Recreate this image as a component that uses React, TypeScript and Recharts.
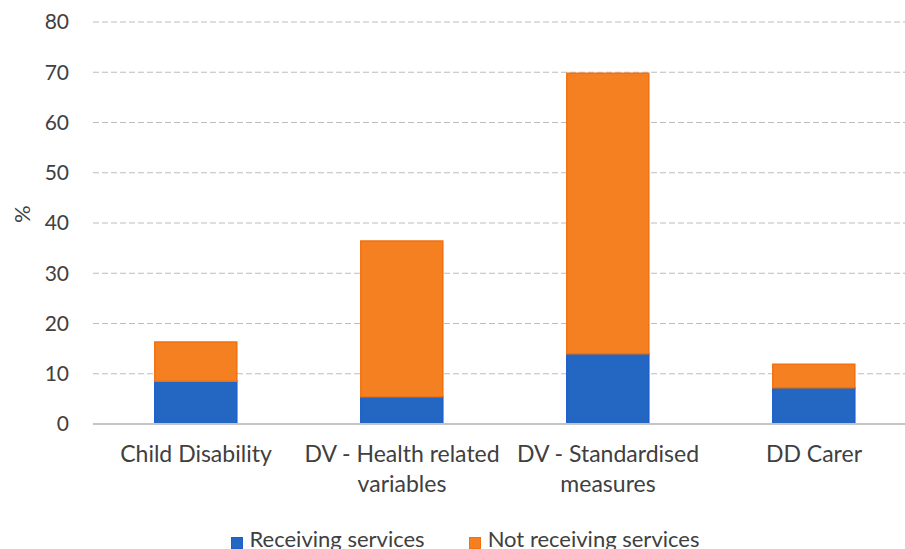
import React from 'react';
import { BarChart, Bar, XAxis, YAxis, CartesianGrid, Legend, ReferenceLine } from 'recharts';

// Categories and values
const categories = ['Child Disability', 'DV - Health related variables', 'DV - Standardised measures', 'DD Carer'];
const receiving = [8.5, 5.4, 14.0, 7.2];
const notReceiving = [7.8, 31.0, 55.8, 4.7];
const yTicks = [0, 10, 20, 30, 40, 50, 60, 70, 80];

const seriesNames = ['Receiving services', 'Not receiving services'];
const fills = ['#2467c2', '#f58022'];
const strokes = ['#1a5fca', '#f2700f'];

const data = categories.map((name, i) => ({
  name,
  receiving: receiving[i],
  notReceiving: notReceiving[i],
}));

const FONT = 'Lato, "Open Sans", sans-serif';
const TICK_SIZE = 23;

// simple word wrap using canvas text measurement
let ctx: CanvasRenderingContext2D | null = null;
const wrap = (label: string, maxWidth: number) => {
  if (!ctx) ctx = document.createElement('canvas').getContext('2d');
  if (ctx) ctx.font = `${TICK_SIZE}px Lato`;
  const words = label.split(' ');
  const lines: string[] = [];
  let cur = '';
  words.forEach(w => {
    const test = cur ? `${cur} ${w}` : w;
    const width = ctx ? ctx.measureText(test).width : test.length * 11;
    if (width > maxWidth && cur) {
      lines.push(cur);
      cur = w;
    } else {
      cur = test;
    }
  });
  if (cur) lines.push(cur);
  return lines;
};

const CategoryTick = (props: any) => {
  const { x, y, payload } = props;
  const lines = wrap(String(payload.value), 200);
  return (
    <text
      x={x}
      y={y + 30}
      textAnchor="middle"
      fill="#404040"
      style={{ fontSize: TICK_SIZE, fontFamily: FONT }}
    >
      {lines.map((l, i) => (
        <tspan key={i} x={x} dy={i === 0 ? 0 : 30}>
          {l}
        </tspan>
      ))}
    </text>
  );
};

const CustomLegend = () => (
  <div
    style={{
      display: 'flex',
      justifyContent: 'center',
      alignItems: 'center',
      fontFamily: FONT,
      fontSize: 22,
      lineHeight: '22px',
      color: '#404040',
      gap: 44,
    }}
  >
    {seriesNames.map((n, i) => (
      <div key={n} style={{ display: 'flex', alignItems: 'center' }}>
        <span
          style={{
            display: 'inline-block',
            width: 10,
            height: 10,
            background: fills[i],
            border: `1px solid ${strokes[i]}`,
            marginRight: 7,
            marginTop: 8,
          }}
        />
        <span>{n}</span>
      </div>
    ))}
  </div>
);

const App = () => {
  return (
    <div style={{ position: 'absolute', left: 0, top: 0, width: 905, height: 549, overflow: 'hidden', background: '#fff' }}>
      <BarChart
        width={925}
        height={549}
        data={data}
        margin={{ top: 22, right: 8, left: 0, bottom: 0 }}
        barCategoryGap="30%"
      >
        <CartesianGrid vertical={false} stroke="#bdbdbd" strokeDasharray="6 3" strokeWidth={1.2} />
        <XAxis
          dataKey="name"
          axisLine={false}
          tickLine={false}
          height={125}
          interval={0}
          tick={<CategoryTick />}
        />
        <YAxis
          domain={[0, 80]}
          ticks={yTicks}
          width={93}
          axisLine={false}
          tickLine={false}
          tickMargin={18}
          tick={{ fill: '#404040', fontSize: 21, fontFamily: FONT }}
          label={{
            value: '%',
            angle: -90,
            position: 'insideLeft',
            offset: 22,
            style: { fill: '#404040', fontSize: 22, fontFamily: FONT },
          }}
        />
        <Bar
          dataKey="receiving"
          name={seriesNames[0]}
          stackId="a"
          fill={fills[0]}
          stroke={strokes[0]}
          strokeWidth={1.5}
          isAnimationActive={false}
        />
        <Bar
          dataKey="notReceiving"
          name={seriesNames[1]}
          stackId="a"
          fill={fills[1]}
          stroke={strokes[1]}
          strokeWidth={1.5}
          isAnimationActive={false}
        />
        <ReferenceLine y={0} stroke="#c4c4c4" strokeWidth={2} />
        <Legend
          verticalAlign="middle"
          layout="horizontal"
          content={<CustomLegend />}
          wrapperStyle={{ left: 0, top: 528, width: 930 }}
        />
      </BarChart>
    </div>
  );
};

export default App;
